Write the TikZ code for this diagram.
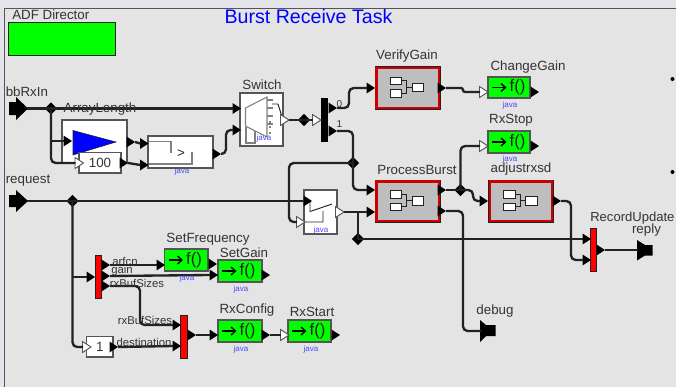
\documentclass[tikz,border=0pt]{standalone}
\usepackage{fontspec}
\setmainfont{Liberation Sans}
\usetikzlibrary{shapes.geometric}
\definecolor{bgin}{HTML}{E4E4E4}
\definecolor{bgout}{HTML}{E2E4E9}
\definecolor{ink}{HTML}{222222}
\definecolor{txt}{HTML}{333333}
\definecolor{edgegray}{HTML}{555555}
\definecolor{javablue}{HTML}{4A4AFF}
\definecolor{compgray}{HTML}{BEBEBE}
\tikzset{
  wire/.style={draw=ink,line width=1.75pt,rounded corners=3.5pt},
  lbl/.style={font=\fontsize{10}{12}\selectfont,text=txt,inner sep=0pt,yshift=-0.8pt},
  tiny lbl/.style={font=\fontsize{8.5}{10}\selectfont,text=txt,inner sep=0pt},
  javatag/.style={font=\fontsize{6}{7}\selectfont,text=javablue,inner sep=0pt},
  plainbox/.style={draw=edgegray,line width=0.8pt,fill=white},
  fnbox/.style={draw=edgegray,line width=0.9pt,fill=green},
  rbar/.style={draw=ink,line width=0.5pt,fill=red},
  kbar/.style={fill=black},
  mini/.style={draw=ink,line width=0.7pt,fill=white},
  junction/.style={diamond,fill=black,inner sep=0pt,minimum width=9.5pt,minimum height=9.5pt},
  solidtip/.style={fill=black},
  hollowtip/.style={fill=white,draw=edgegray,line width=0.7pt},
}
% box: name x y w h style text
\newcommand{\bx}[7]{\node[#6,anchor=north west,inner sep=0pt,outer sep=0pt,minimum width=#4*0.75pt,minimum height=#5*0.75pt,font=\fontsize{10}{12}\selectfont,text=txt] (#1) at (#2,#3) {#7};}
% triangle port: name tipx y style
\newcommand{\tri}[4]{\coordinate (#1) at (#2-8,#3);\coordinate (#1o) at (#2,#3);\path[#4] (#2-8.5,#3-5.5) -- (#2,#3) -- (#2-8.5,#3+5.5) -- cycle;}
% composite actor
\newcommand{\comp}[3]{%
 \fill[ink] (#2,#3) rectangle ++(66,43.5);
 \fill[red!80!black] (#2+0.7,#3+0.7) rectangle ++(64.6,42.1);
 \node[fill=compgray,anchor=north west,inner sep=0pt,outer sep=0pt,minimum width=60*0.75pt,minimum height=37.5*0.75pt] (#1) at (#2+3,#3+3) {};
 \path[mini] (#2+15.5,#3+11) rectangle ++(11.5,7.5);
 \path[mini] (#2+15.5,#3+23.5) rectangle ++(11.5,7.5);
 \path[mini] (#2+37.5,#3+17) rectangle ++(11.5,8.5);
 \draw[ink,line width=0.6pt] (#2+27,#3+14.5) -- (#2+32,#3+14.5) -- (#2+32,#3+27) -- (#2+27,#3+27) (#2+32,#3+21) -- (#2+37.5,#3+21);
}
% function actor
\newcommand{\fn}[5]{%
 \bx{#1}{#2}{#3}{#4}{#5}{fnbox}{}
 \draw[black,line width=1pt] (#2+4,#3+#5/2) -- (#2+17,#3+#5/2);
 \draw[black,line width=1pt] (#2+13,#3+#5/2-4) -- (#2+17.5,#3+#5/2) -- (#2+13,#3+#5/2+4);
 \node[font=\fontsize{12.5}{14}\selectfont,text=ink,inner sep=0pt] at (#2+29.5,#3+#5/2) {f()};
}
\begin{document}
\begin{tikzpicture}[x=0.75pt,y=-0.75pt]
\useasboundingbox (0,0) rectangle (676,387);
\fill[bgout] (0,0) rectangle (676,387);
\fill[bgin] (4.5,8.5) rectangle (676,387);
\draw[edgegray,line width=0.8pt] (4.5,387) -- (4.5,8.5) -- (676,8.5);

\node[lbl,anchor=west] (adflabel) at (12,14) {ADF Director};
\bx{adf}{8.5}{22.5}{107}{33}{draw=ink,line width=0.7pt,fill=green}{}
\node[font=\fontsize{14.7}{17}\selectfont,text=blue,inner sep=0pt] (title) at (308.5,16.5) {Burst Receive Task};

% plain boxes
\bx{alen}{62}{120}{65}{43}{plainbox}{}
\path[fill=blue,draw=ink,line width=0.4pt] (73,130.5) -- (116,142) -- (73,155) -- cycle;
\bx{cmp}{148}{136}{65}{32}{plainbox}{}
\draw[gray,line width=0.8pt] (149,141.5) -- (171,141.5) -- (171,153) (192,152) -- (192,164) -- (149,164);
\node[font=\fontsize{10}{12}\selectfont,text=ink,inner sep=0pt] at (181,154) {>};
\bx{cst}{79}{152.5}{42}{20.5}{plainbox}{100}
\bx{swt}{240}{93}{43}{53}{plainbox}{}
\path[draw=gray,line width=0.8pt,fill=white] (245.5,108) -- (267,97) -- (267,137) -- (245.5,126) -- cycle;
\draw[gray,line width=0.8pt] (246,127) -- (246,143) -- (255,143) -- (255,131);
\draw[gray,line width=0.8pt] (267,100) -- (273,100) (267,108) -- (273,108) (267,116) -- (273,116) (267,124) -- (273,124);
\draw[ink,line width=0.7pt] (272,104) -- (278,104) -- (283,120);
\foreach \d in {122,127,133}{\fill[black] (270,\d) circle (0.9);}
\node[javatag] (swj) at (264,138) {java};
\bx{sel}{304}{190}{33}{44}{plainbox}{}
\draw[ink,line width=0.7pt] (305,201) -- (310,201) -- (310,211.5) -- (332,204) (336,212) -- (342,212) (305,222) -- (323,222) -- (323,211);
\node[javatag] (selj) at (321,230) {java};
\node[javatag] (cmpj) at (182,171) {java};
\bx{barb}{321}{98}{6.5}{44}{kbar}{}

% composites
\comp{verify}{374.5}{66}
\comp{proc}{374.5}{179.5}
\comp{adj}{488}{179.5}

% functions
\fn{chg}{488}{77}{42}{21}
\fn{stopf}{488}{131}{42}{22}
\fn{setf}{164.5}{249}{43.5}{22}
\fn{setg}{218}{260}{44}{22}
\fn{cfg}{218}{320}{44}{22}
\fn{rst}{288}{320}{43}{22}
\bx{one}{86.5}{336.5}{26.5}{20.5}{plainbox}{1}

% red bars
\bx{ra}{95}{255}{6}{43}{rbar}{}
\bx{rb}{180.5}{315}{6.5}{43}{rbar}{}
\bx{rc}{590.5}{228}{6}{43}{rbar}{}

% external ports
\path[fill=black] (9,102) -- (16,102) -- (16,97) -- (28,108.5) -- (16,120) -- (16,115) -- (9,115) -- cycle;
\coordinate (inA) at (27,108.5);
\path[fill=black] (9,195) -- (16,195) -- (16,190) -- (28,201) -- (16,212) -- (16,207) -- (9,207) -- cycle;
\coordinate (inB) at (27,201);
\path[fill=black] (480,320) -- (486,325) -- (495.5,325) -- (495.5,336) -- (486,336) -- (480,342) -- cycle;
\coordinate (dbg) at (481,331);
\path[fill=black] (637,240) -- (645,245) -- (652.5,245) -- (652.5,255.5) -- (645,255.5) -- (637,260.5) -- cycle;
\coordinate (rep) at (638,250);

% ports
\tri{a1}{241}{108.5}{solidtip}
\tri{a2}{241}{130}{solidtip}
\tri{b1}{72}{141}{solidtip}
\tri{b2}{135}{142}{solidtip}
\tri{b3}{148.5}{143.5}{solidtip}
\tri{c1}{83.5}{163}{hollowtip}
\tri{c2}{128}{163}{solidtip}
\tri{c3}{148.5}{165}{solidtip}
\tri{d1}{221}{154}{solidtip}
\tri{e1}{289}{120}{hollowtip}
\tri{e2}{321}{120}{hollowtip}
\tri{f0}{337}{108}{solidtip}
\tri{f1}{337}{131}{solidtip}
\tri{g1}{375}{88}{solidtip}
\tri{g2}{446}{88}{solidtip}
\tri{g3}{488}{92}{hollowtip}
\tri{g4}{539}{92}{solidtip}
\tri{h1}{488}{146}{hollowtip}
\tri{h2}{539}{146}{solidtip}
\tri{p1}{375}{190}{solidtip}
\tri{p2}{375}{212}{solidtip}
\tri{p3}{446}{190}{solidtip}
\tri{p4}{446}{211}{solidtip}
\tri{q1}{488}{201}{solidtip}
\tri{q2}{561}{201}{solidtip}
\tri{s1}{312}{201}{solidtip}
\tri{s2}{305}{222}{hollowtip}
\tri{s3}{344}{212}{hollowtip}
\tri{t1}{591}{239}{solidtip}
\tri{t2}{591}{260}{solidtip}
\tri{t3}{605}{250}{solidtip}
\tri{u1}{95}{277}{solidtip}
\tri{u2}{110}{265}{solidtip}
\tri{u3}{110}{276}{solidtip}
\tri{u4}{110}{286}{solidtip}
\tri{v1}{165}{265}{solidtip}
\tri{v2}{217}{264}{solidtip}
\tri{v3}{218}{275}{solidtip}
\tri{v4}{270}{275}{solidtip}
\tri{w1}{181}{325}{solidtip}
\tri{w2}{181}{346}{solidtip}
\tri{w3}{196}{335}{solidtip}
\tri{w4}{218}{335}{solidtip}
\tri{w5}{270}{335}{solidtip}
\tri{w6}{289}{335}{hollowtip}
\tri{w7}{340}{335}{solidtip}
\tri{o1}{91}{347}{hollowtip}
\tri{o2}{118}{347}{solidtip}

% junctions
\node[junction] (j1) at (51,108.5) {};
\node[junction] (j2) at (72.5,201) {};
\node[junction] (j3) at (304,120) {};
\node[junction] (j4) at (353,163) {};
\node[junction] (j5) at (460.5,190) {};
\node[junction] (j6) at (358,239) {};

% wires
\draw[wire] (inA) -- (j1.center) -- (a1);
\draw[wire] (j1.center) |- (c1);
\draw[wire] (j1.center |- b1) -- (b1);
\draw[wire] (b2o) -- (b3);
\draw[wire] (c2o) -- (c3);
\draw[wire] (d1o) -- ++(5,0) |- (a2);
\draw[wire] (e1o) -- (j3.center) -- (e2);
\draw[wire] (f0o) -- (349,108) |- (g1);
\draw[wire] (f1o) -- (353,131) -- (j4.center) |- (p1);
\draw[wire,rounded corners=1.5pt] (g2o) -- (463,88) -- (463,92) -- (g3);
\draw[wire] (j4.center) -- (289,163) |- (s2);
\draw[wire] (inB) -- (j2.center) -- (s1);
\draw[wire] (s3o) -- (p2);
\draw[wire] (j6.center) -- (j6.center |- s3o);
\draw[wire] (j6.center) -- (t1);
\draw[wire] (p3o) -- (j5.center);
\draw[wire] (j5.center) |- (h1);
\draw[wire] (j5.center) -- (473,190) |- (q1);
\draw[wire] (q2o) -- (571,201) |- (t2);
\draw[wire] (p4o) -- (463,211) |- (dbg);
\draw[wire] (t3o) -- (rep);
\draw[wire] (j2.center) |- (o1);
\draw[wire] (j2.center |- u1) -- (u1);
\draw[wire] (u2o) -- (v1);
\draw[wire] (u3o) -- (v3);
\draw[wire] (u4o) -- (140,286) -- (140,325) -- (w1);
\draw[wire] (o2o) -- (w2);
\draw[wire] (w3o) -- (w4);
\draw[wire] (w5o) -- (w6);

% labels
\node[lbl,anchor=west] at (5.5,91) {bbRxIn};
\node[lbl,anchor=west] at (5.5,180) {request};
\node[lbl] at (100,108) {ArrayLength};
\node[lbl] at (262,84) {Switch};
\node[font=\fontsize{7.5}{9}\selectfont,text=txt,inner sep=0pt] at (339.5,104) {0};
\node[font=\fontsize{7.5}{9}\selectfont,text=txt,inner sep=0pt] at (339.5,124) {1};
\node[lbl] at (407,54.5) {VerifyGain};
\node[lbl] at (528,65.5) {ChangeGain};
\node[lbl] at (511,119.5) {RxStop};
\node[lbl] at (417,168.5) {ProcessBurst};
\node[lbl] at (521,168) {adjustrxsd};
\node[lbl] at (495,310) {debug};
\node[lbl,anchor=west,font=\fontsize{9.8}{12}\selectfont] at (590,217) {RecordUpdate};
\node[lbl] at (646.5,229) {reply};
\node[lbl] at (208,238.5) {SetFrequency};
\node[lbl] at (244,252) {SetGain};
\node[lbl] at (247,308.5) {RxConfig};
\node[lbl] at (312,311) {RxStart};
\node[tiny lbl] at (125,261.5) {arfcn};
\node[tiny lbl] at (122,270.5) {gain};
\node[tiny lbl] at (137,283) {rxBufSizes};
\node[tiny lbl] at (145,320) {rxBufSizes};
\node[tiny lbl] at (144,342) {destination};
\node[javatag] at (510,105) {java};
\node[javatag] at (510,159) {java};
\node[javatag] at (187,278) {java};
\node[javatag] at (241,289) {java};
\node[javatag] at (241,349) {java};
\node[javatag] at (311,349) {java};

% bullets
\fill[black] (672.5,79) circle (2);
\fill[black] (672.5,172) circle (2);
\end{tikzpicture}
\end{document}
